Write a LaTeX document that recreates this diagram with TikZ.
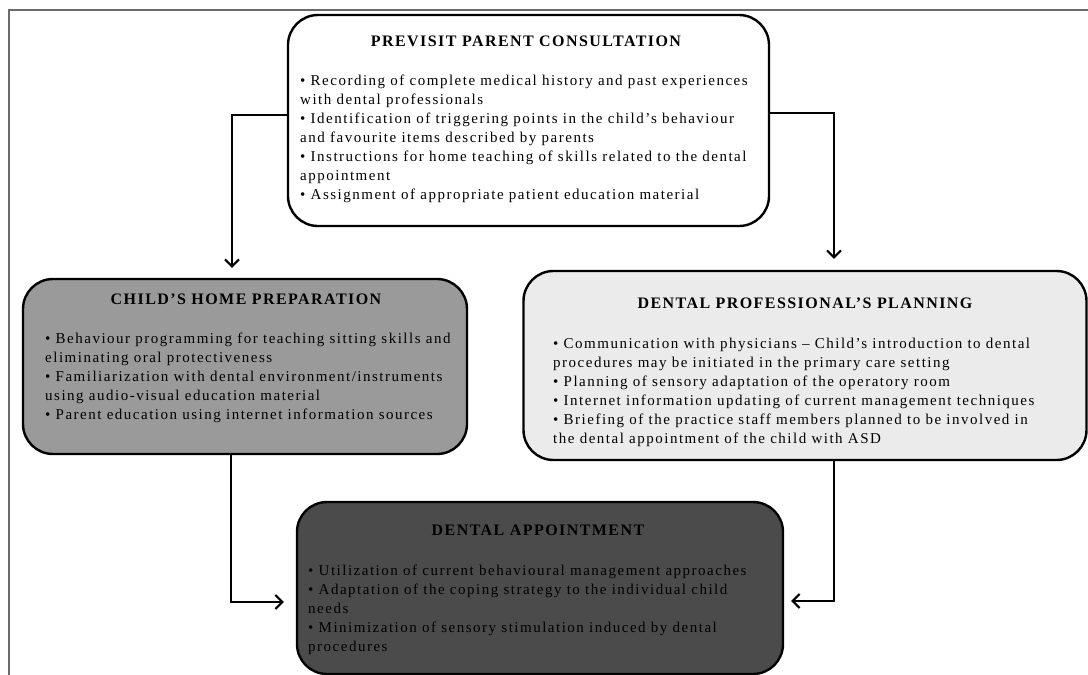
\documentclass[tikz,border=0pt]{standalone}
\usepackage{fontspec}
\setmainfont{Liberation Serif}
\newfontfamily\bodyfnt[LetterSpace=10]{Liberation Serif}
\newfontfamily\ttlfnt[LetterSpace=9]{Liberation Serif}
\usetikzlibrary{arrows.meta}
\definecolor{homefill}{HTML}{9A9A9A}
\definecolor{planfill}{HTML}{EBEBEB}
\definecolor{apptfill}{HTML}{4B4B4B}
\definecolor{framegray}{HTML}{6A6A6A}
\begin{document}
\begin{tikzpicture}[x=1pt,y=-1pt,
  boxbase/.style={draw=black,line width=2.4pt,rounded corners=30pt,inner sep=0pt,shape=rectangle},
  ttl/.style={font=\ttlfnt\fontsize{16}{19}\selectfont\bfseries,inner sep=0pt},
  body/.style={font=\bodyfnt\fontsize{15}{19}\selectfont,align=left,anchor=north west,inner sep=0pt},
  conn/.style={line width=2pt,-{Straight Barb[length=7pt,width=14pt,line width=2pt]}}]
\useasboundingbox[fill=white] (0,0) rectangle (1088,675);
\draw[framegray,line width=1.3pt] (1088,10) -- (9,10) -- (9,675);

\node[boxbase,fill=white,minimum width=481pt,minimum height=211pt] (top) at (528.5,120.5) {};
\node[boxbase,fill=homefill,minimum width=444pt,minimum height=175pt] (home) at (245,366.5) {};
\node[boxbase,fill=planfill,minimum width=563pt,minimum height=189pt] (plan) at (805,365.5) {};
\node[boxbase,fill=apptfill,minimum width=486pt,minimum height=172pt] (appt) at (540,588) {};

\node[ttl] (toptitle) at (526,41) {PREVISIT PARENT CONSULTATION};
\node[body] (topbody) at (300,75) {\textbullet{} Recording of complete medical history and past experiences\\
with dental professionals\\
\textbullet{} Identification of triggering points in the child’s behaviour\\
and favourite items described by parents\\
\textbullet{} Instructions for home teaching of skills related to the dental\\
appointment\\
\textbullet{} Assignment of appropriate patient education material};

\node[ttl] (hometitle) at (246,299) {CHILD’S HOME PREPARATION};
\node[body] (homebody) at (45,333) {\textbullet{} Behaviour programming for teaching sitting skills and\\
eliminating oral protectiveness\\
\textbullet{} Familiarization with dental environment/instruments\\
using audio-visual education material\\
\textbullet{} Parent education using internet information sources};

\node[ttl] (plantitle) at (805,303) {DENTAL PROFESSIONAL’S PLANNING};
\node[body] (planbody) at (553,338) {\textbullet{} Communication with physicians – Child’s introduction to dental\\
procedures may be initiated in the primary care setting\\
\textbullet{} Planning of sensory adaptation of the operatory room\\
\textbullet{} Internet information updating of current management techniques\\
\textbullet{} Briefing of the practice staff members planned to be involved in\\
the dental appointment of the child with ASD};

\node[ttl] (appttitle) at (538,530) {DENTAL APPOINTMENT};
\node[body] (apptbody) at (308,565) {\textbullet{} Utilization of current behavioural management approaches\\
\textbullet{} Adaptation of the coping strategy to the individual child\\
needs\\
\textbullet{} Minimization of sensory stimulation induced by dental\\
procedures};

\draw[conn] ([yshift=6pt]top.west) -| ([xshift=-13pt,yshift=10pt]home.north);
\draw[conn] ([yshift=7.5pt]top.east) -| ([xshift=29pt,yshift=11pt]plan.north);
\draw[conn] ([xshift=-14pt]home.south) |- ([xshift=-12pt,yshift=-14pt]appt.west);
\draw[conn] ([xshift=29pt]plan.south) |- ([xshift=7pt,yshift=-13pt]appt.east);
\end{tikzpicture}
\end{document}
